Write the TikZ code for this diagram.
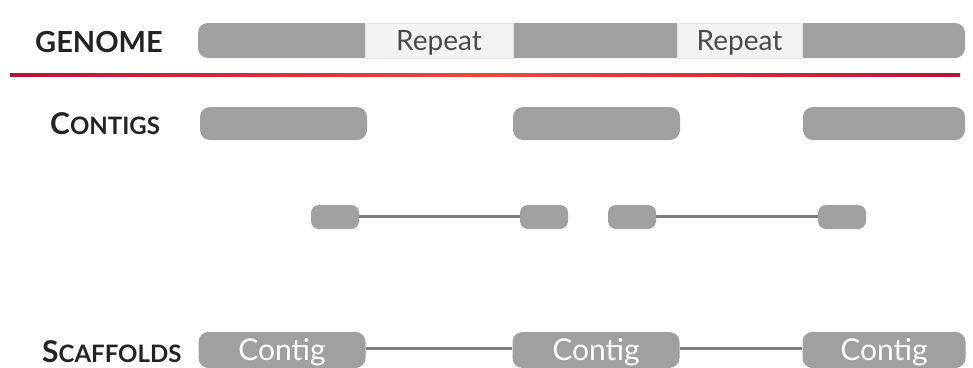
\documentclass[tikz,border=0pt]{standalone}
\usepackage{fontspec}
\setmainfont{Lato}
\begin{document}
\begin{tikzpicture}[x=1pt,y=-1pt,
  seg/.style={fill=barGray, draw=none, rounded corners=10pt, inner sep=0pt},
  read/.style={fill=barGray, draw=none, rounded corners=8pt, inner sep=0pt,
    minimum width=48pt, minimum height=24pt},
  rep/.style={fill=repFill, draw=repEdge, line width=0.8pt, inner sep=0pt,
    minimum height=35pt, text depth=0pt, text=repText,
    font=\fontsize{28}{28}\selectfont},
  link/.style={draw=linkGray, line width=3pt},
  rowlabel/.style={text=labelInk, font=\bfseries, anchor=west, inner sep=0pt},
  ctext/.style={text=white, text depth=2pt, font=\fontsize{30}{30}\selectfont}
]
\definecolor{barGray}{HTML}{A0A0A0}
\definecolor{repFill}{HTML}{F2F2F2}
\definecolor{repEdge}{HTML}{E2E2E2}
\definecolor{repText}{HTML}{4A4A4A}
\definecolor{linkGray}{HTML}{7C7C7C}
\definecolor{labelInk}{HTML}{232323}
\definecolor{lineDark}{HTML}{B8123A}
\definecolor{lineMid}{HTML}{EE4A36}

\useasboundingbox (0,0) rectangle (973,367);

% genome bar with two repeat regions
\node[seg, minimum width=767pt, minimum height=35pt] (genome) at (581.5,40.5) {};
\node[rep, minimum width=148pt] (rep1) at (439,40.5) {Repeat};
\node[rep, minimum width=125pt] (rep2) at (739.5,40.5) {Repeat};
\node[rowlabel, font=\fontsize{29}{29}\selectfont\bfseries] (lgenome) at (35,42) {GENOME};

% divider
\shade[left color=lineDark, right color=lineDark, middle color=lineMid]
  (10,73.5) rectangle (960,76.5);

% contigs
\node[rowlabel] (lcontigs) at (50,124)
  {\fontsize{30}{30}\selectfont C\fontsize{24}{24}\selectfont ONTIGS};
\node[seg, minimum width=167pt, minimum height=33pt] (c1) at (283.5,123.5) {};
\node[seg, minimum width=167pt, minimum height=33pt] (c2) at (596.5,123.5) {};
\node[seg, minimum width=162pt, minimum height=33pt] (c3) at (884,123.5) {};

% paired reads
\node[read] (r1) at (335,217) {};
\node[read] (r2) at (544,217) {};
\node[read] (r3) at (632,217) {};
\node[read] (r4) at (842,217) {};
\draw[link] ([yshift=1pt]r1.east) -- ([yshift=1pt]r2.west);
\draw[link] ([yshift=1pt]r3.east) -- ([yshift=1pt]r4.west);

% scaffolds
\node[rowlabel] (lscaff) at (42,352)
  {\fontsize{30}{30}\selectfont S\fontsize{24}{24}\selectfont CAFFOLDS};
\node[seg, ctext, minimum width=167pt, minimum height=36pt] (s1) at (282,350) {Contig};
\node[seg, ctext, minimum width=167pt, minimum height=36pt] (s2) at (596,350) {Contig};
\node[seg, ctext, minimum width=163pt, minimum height=36pt] (s3) at (884,350) {Contig};
\draw[link] ([yshift=2pt]s1.east) -- ([yshift=2pt]s2.west);
\draw[link] ([yshift=2pt]s2.east) -- ([yshift=2pt]s3.west);
\end{tikzpicture}
\end{document}
